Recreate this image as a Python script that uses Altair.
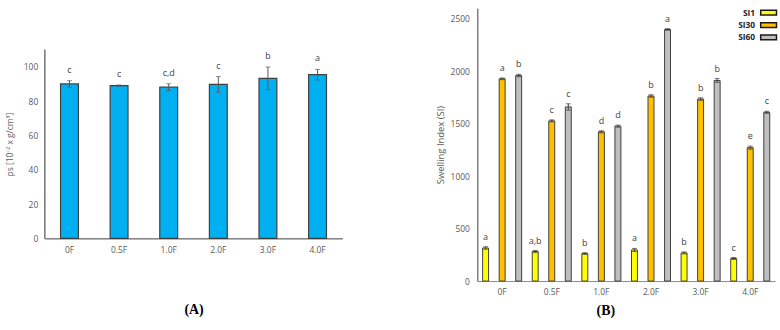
import altair as alt
import pandas as pd

cats = ["0F", "0.5F", "1.0F", "2.0F", "3.0F", "4.0F"]

# Panel A: density
rho_mean = [90.1, 89.1, 88.2, 89.8, 93.4, 95.5]
rho_err = [1.9, 0.4, 2.0, 4.6, 6.6, 3.1]
rho_letter = ["c", "c", "c,d", "c", "b", "a"]
rho_axis_max = 110

# Panel B: swelling index
series = ["SI1", "SI30", "SI60"]
si1 = [315, 281, 262, 296, 268, 215]
si30 = [1927, 1526, 1422, 1763, 1734, 1271]
si60 = [1958, 1659, 1476, 2397, 1911, 1608]
si1_err = [12, 10, 8, 15, 10, 10]
si30_err = [8, 10, 10, 12, 12, 15]
si60_err = [12, 30, 10, 8, 18, 10]
si1_letter = ["a", "a,b", "b", "a", "b", "c"]
si30_letter = ["a", "c", "d", "b", "b", "e"]
si60_letter = ["b", "c", "d", "a", "b", "c"]
colors = ["#FFFF00", "#FFC000", "#BFBFBF"]

FONT = "Open Sans"
LBL = "#595959"

dfA = pd.DataFrame({"cat": cats, "mean": rho_mean, "err": rho_err, "letter": rho_letter})
dfA["lo"] = dfA["mean"] - dfA["err"]
dfA["hi"] = dfA["mean"] + dfA["err"]

rows = []
for s, vals, errs, lets in [("SI1", si1, si1_err, si1_letter),
                            ("SI30", si30, si30_err, si30_letter),
                            ("SI60", si60, si60_err, si60_letter)]:
    for c, v, e, l in zip(cats, vals, errs, lets):
        rows.append({"cat": c, "series": s, "value": v, "err": e, "letter": l,
                     "lo": v - e, "hi": v + e})
dfB = pd.DataFrame(rows)

# ---------- Panel A ----------
HA = 232
yA_scale = alt.Scale(domain=[0, rho_axis_max * HA / 190], nice=False)
xA = alt.X("cat:N", sort=cats,
           scale=alt.Scale(paddingInner=0.64, paddingOuter=0.32),
           axis=alt.Axis(title="(A)", labelAngle=0, ticks=False, domainColor="#404040",
                         labelPadding=7, titlePadding=49, titleFont="Liberation Serif",
                         titleFontSize=14, titleFontWeight="bold", titleColor="#000000"))
baseA = alt.Chart(dfA).encode(x=xA)
barsA = baseA.mark_bar(color="#00B0F0", stroke="#404040", strokeWidth=1.2).encode(
    y=alt.Y("mean:Q", scale=yA_scale,
            axis=alt.Axis(values=[0, 20, 40, 60, 80, 100], title="ρs [10⁻² x g/cm³]",
                          ticks=False, domain=False, labelPadding=7, labelOverlap=False,
                          titlePadding=9, titleFontSize=8.5, titleFontWeight="normal",
                          titleColor=LBL, titleFont=FONT, titleY=HA - 95)))
axisLineA = alt.Chart(dfA).mark_rule(color="#808080", strokeWidth=1).encode(
    x=alt.value(0), y=alt.datum(0, scale=yA_scale), y2=alt.datum(rho_axis_max))
ruleA = baseA.mark_rule(color="#595959", strokeWidth=1).encode(y="lo:Q", y2="hi:Q")
capLoA = baseA.mark_tick(color="#595959", size=5, thickness=1).encode(y="lo:Q")
capHiA = baseA.mark_tick(color="#595959", size=5, thickness=1).encode(y="hi:Q")
textA = baseA.mark_text(dy=-11, baseline="middle", font=FONT, fontSize=9, color="#404040").encode(
    y="hi:Q", text="letter:N")
panelA = alt.layer(barsA, axisLineA, ruleA, capLoA, capHiA, textA).properties(
    width=300, height=HA)

# ---------- Panel B ----------
xB = alt.X("cat:N", sort=cats, scale=alt.Scale(paddingInner=0, paddingOuter=0),
           axis=alt.Axis(title="(B)", labelAngle=0, ticks=False, domainColor="#8C8C8C",
                         labelPadding=7, titlePadding=7, titleFont="Liberation Serif",
                         titleFontSize=14, titleFontWeight="bold", titleColor="#000000",
                         titleX=129))
xoB = alt.XOffset("series:N", sort=series, scale=alt.Scale(paddingInner=0, paddingOuter=0))
yB_scale = alt.Scale(domain=[0, 2600], nice=False)
baseB = alt.Chart(dfB).encode(x=xB, xOffset=xoB)
barsB = baseB.mark_bar(width=6, stroke="#404040", strokeWidth=1).encode(
    y=alt.Y("value:Q", scale=yB_scale,
            axis=alt.Axis(values=[0, 500, 1000, 1500, 2000, 2500], format="d",
                          title="Swelling Index (SI)", labelOverlap=False,
                          ticks=False, domainColor="#404040", labelPadding=8,
                          titlePadding=5, titleFontSize=9.5, titleFontWeight="normal",
                          titleColor=LBL, titleFont=FONT)),
    color=alt.Color("series:N", sort=series,
                    scale=alt.Scale(domain=series, range=colors),
                    legend=alt.Legend(orient="none", legendX=723, legendY=-2, title=None,
                                      symbolType="M-1.45,-0.43L1.45,-0.43L1.45,0.43L-1.45,0.43Z",
                                      symbolSize=121, symbolStrokeColor="#1a1a1a",
                                      symbolStrokeWidth=1.5, labelAlign="right",
                                      labelOffset={"expr": "-20"}, labelFont=FONT, labelFontSize=8.5,
                                      labelFontWeight="bold", labelColor="#262626",
                                      rowPadding=0.5)))
ruleB = baseB.mark_rule(color="#404040", strokeWidth=1).encode(y="lo:Q", y2="hi:Q")
capLoB = baseB.mark_tick(color="#404040", size=5, thickness=1).encode(y="lo:Q")
capHiB = baseB.mark_tick(color="#404040", size=5, thickness=1).encode(y="hi:Q")
textB = baseB.mark_text(dy=-10, baseline="middle", font=FONT, fontSize=9, color="#404040").encode(
    y="hi:Q", text="letter:N")
panelB = alt.layer(barsB, ruleB, capLoB, capHiB, textB).properties(width=300, height=275)

chart = alt.hconcat(panelA, panelB, spacing=93).properties(
    padding={"left": 5, "top": 5, "right": 0, "bottom": 0}
).configure_view(stroke=None).configure_axis(
    grid=False, labelFont=FONT, labelFontSize=8.5, labelColor=LBL
)

chart.save("out.html", embed_options={"renderer": "svg", "actions": False})
